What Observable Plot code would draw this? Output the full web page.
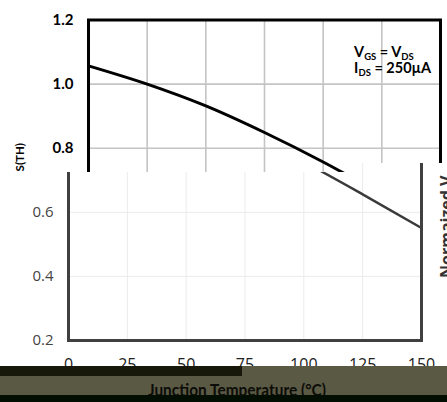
<!DOCTYPE html>
<html><head><meta charset="utf-8">
<script src="https://cdn.jsdelivr.net/npm/d3@7"></script>
<script src="https://cdn.jsdelivr.net/npm/@observablehq/plot@0.6"></script>
<style>
html,body{margin:0;padding:0;background:#fff;}
#root{position:relative;width:447px;height:402px;overflow:hidden;background:#fff;}
.layer{position:absolute;left:0;top:0;}
#top{width:447px;height:172px;overflow:hidden;}
#bot{width:447px;height:402px;background:#fff;clip-path:polygon(0 172px,350px 172px,350px 163px,447px 163px,447px 402px,0 402px);}
#band{width:447px;height:402px;}
</style></head><body>
<div id="root"><div id="top" class="layer"></div><div id="bot" class="layer"></div><svg id="band" class="layer" width="447" height="402"></svg></div>
<script>
// ---- data ----
const temperatures = [0, 25, 50, 75, 100, 125, 150];
const normalizedVth = [1.057, 1.0, 0.932, 0.849, 0.757, 0.656, 0.551];
const xTicks = [0, 25, 50, 75, 100, 125, 150];
const yTicks = [0.2, 0.4, 0.6, 0.8, 1.0, 1.2];
const xLabel = "Junction Temperature (°C)";
const yLabelMain = "Normalized V";
const yLabelSub = "GS(TH)";
const cutLabel = "Normaized V";
const noteLines = [["V", "GS", " = V", "DS"], ["I", "DS", " = 250µA", ""]];

const data = temperatures.map((t, i) => ({t, v: normalizedVth[i]}));
const fmt = d => d.toFixed(1);

// ---- top (upper) rendering ----
const topPlot = Plot.plot({
  width: 447, height: 345,
  marginLeft: 88, marginRight: 7, marginTop: 19.5, marginBottom: 5,
  style: {fontFamily: "Lato, sans-serif", fontWeight: "bold", fontSize: "15px", background: "transparent"},
  x: {domain: [0, 150], axis: null},
  y: {domain: [0.2, 1.2], axis: null},
  marks: [
    Plot.gridX(xTicks.slice(1, -1), {stroke: "#c4c4c4", strokeOpacity: 1, strokeWidth: 1.6}),
    Plot.gridY(yTicks.slice(1, -1), {stroke: "#c4c4c4", strokeOpacity: 1, strokeWidth: 1.6}),
    Plot.axisY(yTicks, {tickSize: 0, tickPadding: 15, tickFormat: fmt, fontSize: 15, fill: "#000", label: null}),
    Plot.line(data, {x: "t", y: "v", stroke: "#000", strokeWidth: 3, curve: "monotone-x"}),
    Plot.frame({stroke: "#000", strokeWidth: 3})
  ]
});
document.getElementById("top").appendChild(topPlot);
const tsvg = d3.select(topPlot);
const xs = topPlot.scale("x"), ys = topPlot.scale("y");
const ann = tsvg.append("g").attr("font-family", "Lato, sans-serif").attr("font-weight", "bold")
  .attr("fill", "#000").attr("text-anchor", "start");
noteLines.forEach((parts, i) => {
  const tx = ann.append("text").attr("x", xs.apply(113.4)).attr("y", ys.apply(1.083 - i * 0.05)).attr("font-size", 14.5);
  tx.append("tspan").text(parts[0]);
  tx.append("tspan").attr("font-size", 9.5).attr("dy", 3).text(parts[1]);
  tx.append("tspan").attr("dy", -3).text(parts[2]);
  if (parts[3]) tx.append("tspan").attr("font-size", 9.5).attr("dy", 3).text(parts[3]);
});
const yl = tsvg.append("text").attr("transform", "translate(21,143) rotate(-90)")
  .attr("text-anchor", "end").attr("font-family", "Lato, sans-serif").attr("font-weight", "bold")
  .attr("font-size", 15).attr("fill", "#000");
yl.append("tspan").text(yLabelMain);
yl.append("tspan").attr("font-size", 11.5).attr("dy", 3).text(yLabelSub);

// ---- bottom (lower) rendering ----
const botPlot = Plot.plot({
  width: 447, height: 402,
  marginLeft: 68, marginRight: 26, marginTop: 19.5, marginBottom: 62,
  style: {fontFamily: "'Open Sans', sans-serif", fontSize: "15px", background: "transparent"},
  x: {domain: [0, 150], axis: null},
  y: {domain: [0.2, 1.2], axis: null},
  marks: [
    Plot.gridX(xTicks.slice(1, -1), {stroke: "#ebebeb", strokeOpacity: 1, strokeWidth: 1}),
    Plot.gridY(yTicks.slice(1, -1), {stroke: "#ebebeb", strokeOpacity: 1, strokeWidth: 1}),
    Plot.axisY(yTicks, {tickSize: 0, tickPadding: 15, tickFormat: fmt, fontSize: 15, fill: "#444", label: null}),
    Plot.axisX(xTicks, {tickSize: 0, tickPadding: 18, fontSize: 16, fill: "#222", label: null}),
    Plot.line(data, {x: "t", y: "v", stroke: "#3a3a3a", strokeWidth: 2.5, curve: "monotone-x"}),
    Plot.frame({stroke: "#404040", strokeWidth: 3})
  ]
});
document.getElementById("bot").appendChild(botPlot);
d3.select(botPlot).append("text").attr("transform", "translate(451.5,278) rotate(-90)")
  .attr("text-anchor", "start").attr("font-family", "'Open Sans', sans-serif").attr("font-weight", "bold")
  .attr("font-size", 16).attr("fill", "#333").text(cutLabel);

// ---- bottom band ----
const band = d3.select("#band");
band.append("rect").attr("x", 0).attr("y", 366).attr("width", 242).attr("height", 10).attr("fill", "#17170a");
band.append("rect").attr("x", 242).attr("y", 366).attr("width", 205).attr("height", 10).attr("fill", "#5a5944");
band.append("rect").attr("x", 0).attr("y", 376).attr("width", 447).attr("height", 19).attr("fill", "#5a5944");
band.append("text").attr("x", 148).attr("y", 396).attr("font-family", "Lato, sans-serif").attr("font-weight", "bold")
  .attr("font-size", 17).attr("fill", "#0c0c08").attr("textLength", 178).attr("lengthAdjust", "spacingAndGlyphs").text(xLabel);
band.append("rect").attr("x", 0).attr("y", 395).attr("width", 447).attr("height", 7).attr("fill", "#020e02");
</script>
</body></html>
